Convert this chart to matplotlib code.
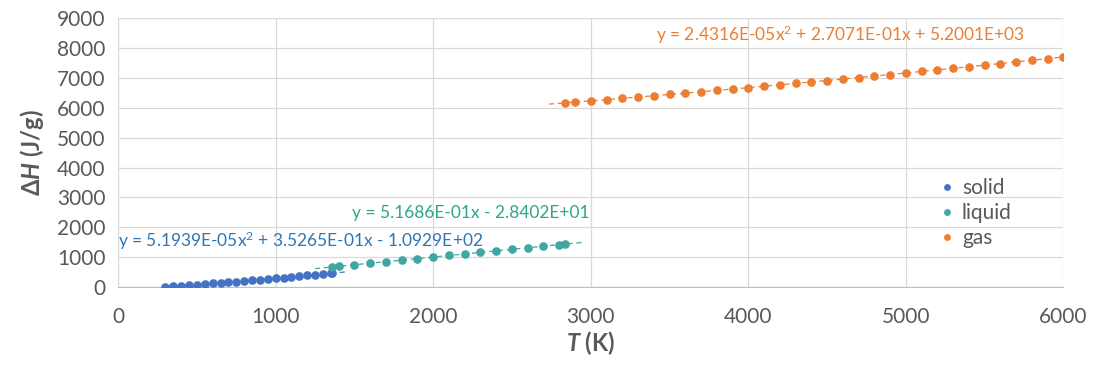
import numpy as np
import matplotlib
matplotlib.use('Agg')
from matplotlib import pyplot as plt

plt.rcParams['font.family'] = ['Lato', 'DejaVu Sans']
plt.rcParams['mathtext.fontset'] = 'custom'
plt.rcParams['mathtext.it'] = 'Lato:italic:bold'
plt.rcParams['mathtext.rm'] = 'Lato:bold'

# enthalpy data per phase
T_solid = [300, 350, 400, 450, 500, 550, 600, 650, 700, 750, 800, 850, 900, 950,
           1000, 1050, 1100, 1150, 1200, 1250, 1300, 1350, 1358]
H_solid = [1.2, 20.5, 40.1, 59.9, 80.0, 100.4, 121.0, 141.9, 163.0, 184.4, 206.1, 228.0,
           250.2, 272.6, 295.3, 318.3, 341.5, 365.0, 388.7, 412.7, 436.9, 461.5, 465.4]

T_liquid = [1358, 1400, 1500, 1600, 1700, 1800, 1900, 2000, 2100, 2200, 2300, 2400,
            2500, 2600, 2700, 2800, 2835]
H_liquid = [673.5, 695.2, 746.9, 798.6, 850.3, 901.9, 953.6, 1005.3, 1057.0, 1108.7,
            1160.4, 1212.1, 1263.7, 1315.4, 1367.1, 1418.8, 1436.9]

T_gas = [2835, 2900, 3000, 3100, 3200, 3300, 3400, 3500, 3600, 3700, 3800, 3900, 4000,
         4100, 4200, 4300, 4400, 4500, 4600, 4700, 4800, 4900, 5000, 5100, 5200, 5300,
         5400, 5500, 5600, 5700, 5800, 5900, 6000]
H_gas = [6163.0, 6189.7, 6231.1, 6273.0, 6315.4, 6358.2, 6401.6, 6445.5, 6489.8, 6534.6,
         6579.9, 6625.7, 6672.0, 6718.8, 6766.0, 6813.8, 6862.0, 6910.7, 6959.9, 7009.6,
         7059.8, 7110.4, 7161.6, 7213.2, 7265.3, 7317.9, 7371.0, 7424.6, 7478.6, 7533.2,
         7588.2, 7643.7, 7699.7]

# trendline coefficients (highest power first)
fit_solid = [5.1939E-05, 3.5265E-01, -1.0929E+02]
fit_liquid = [5.1686E-01, -2.8402E+01]
fit_gas = [2.4316E-05, 2.7071E-01, 5.2001E+03]

eq_solid = 'y = 5.1939E-05x$^\\mathregular{2}$ + 3.5265E-01x - 1.0929E+02'
eq_liquid = 'y = 5.1686E-01x - 2.8402E+01'
eq_gas = 'y = 2.4316E-05x$^\\mathregular{2}$ + 2.7071E-01x + 5.2001E+03'

c_solid = '#4472C4'
c_liquid = '#3FA7A3'
c_gas = '#ED7D31'

fig = plt.figure(figsize=(10.94, 3.69), dpi=100)
ax = fig.add_axes([0.108, 0.222, 0.864, 0.729])

phases = [
    (T_solid, H_solid, fit_solid, (300, 1460), c_solid, 'solid'),
    (T_liquid, H_liquid, fit_liquid, (1250, 2950), c_liquid, 'liquid'),
    (T_gas, H_gas, fit_gas, (2735, 6000), c_gas, 'gas'),
]
for T, H, coef, rng, col, name in phases:
    ax.plot(T, H, 'o', color=col, markersize=5.2, label=name, zorder=3)
    tt = np.linspace(rng[0], rng[1], 200)
    ax.plot(tt, np.polyval(coef, tt), '--', color=col, lw=0.9, dashes=(4, 3), zorder=2)

ax.text(0, 1540, eq_solid, color='#2E75B6', fontsize=12.5, va='center')
ax.text(1486, 2475, eq_liquid, color='#2EA58A', fontsize=12.5, va='center')
ax.text(3416, 8430, eq_gas, color=c_gas, fontsize=12.5, va='center')

ax.set_xlim(0, 6000)
ax.set_ylim(0, 9000)
ax.set_xticks(range(0, 6001, 1000))
ax.set_yticks(range(0, 9001, 1000))
ax.grid(True, color='#D9D9D9', lw=0.9)
ax.set_axisbelow(True)
for s in ['top', 'right']:
    ax.spines[s].set_visible(False)
ax.spines['left'].set_color('#D9D9D9')
ax.spines['bottom'].set_color('#BFBFBF')
ax.tick_params(length=0, labelsize=15, colors='#595959')
ax.tick_params(axis='x', pad=14)
ax.tick_params(axis='y', pad=9)

ax.set_xlabel(r'$\mathit{T}$ (K)', fontsize=17, fontweight='bold', color='#595959', labelpad=2)
ax.set_ylabel(r'$\mathit{\Delta H}$ (J/g)', fontsize=17, fontweight='bold', color='#595959', labelpad=8)

leg = ax.legend(loc='upper left', bbox_to_anchor=(0.853, 0.445), frameon=False,
                fontsize=15, markerscale=0.75, handletextpad=0.1, labelspacing=0.25,
                handlelength=1.2, borderpad=0)
for t in leg.get_texts():
    t.set_color('#595959')

fig.savefig('out.png', dpi=100)
